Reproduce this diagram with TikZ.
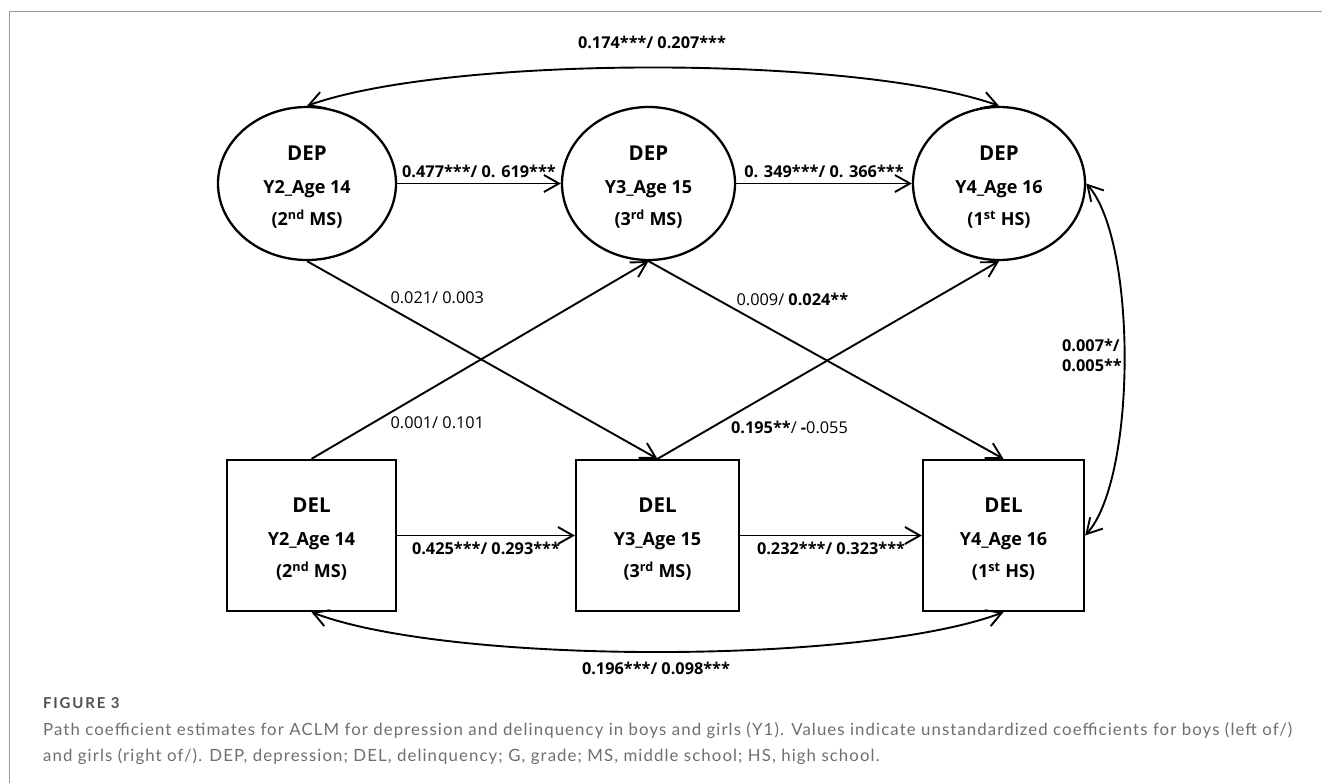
\documentclass[tikz,border=0pt]{standalone}
\usepackage{fontspec}
\setmainfont{Open Sans}
\newfontfamily\capfont{Lato}[LetterSpace=6.5]
\newfontfamily\figfont{Lato}[LetterSpace=12]
\usetikzlibrary{arrows.meta,shapes.geometric}
\definecolor{framegray}{HTML}{9A9A9A}
\definecolor{capgray}{HTML}{6E6E6E}
\definecolor{figgray}{HTML}{505050}
\begin{document}
\begin{tikzpicture}[x=1pt,y=-1pt,
  latent/.style={ellipse, draw, line width=2.3pt, minimum width=#1, minimum height=153pt, inner sep=0pt},
  observed/.style={rectangle, draw, line width=2.3pt, minimum width=#1, minimum height=151pt, inner sep=0pt},
  ntext/.style={align=center, inner sep=0pt, font=\fontsize{18}{32.5}\selectfont\bfseries},
  pathar/.style={line width=1.9pt, -{Straight Barb[length=15pt,width=17pt]}},
  covar/.style={line width=1.9pt, {Straight Barb[length=15pt,width=17pt]}-{Straight Barb[length=15pt,width=17pt]}},
  blab/.style={font=\fontsize{16.3}{20}\selectfont\bfseries, inner sep=2pt},
  rlab/.style={font=\fontsize{16.3}{20}\selectfont, inner sep=2pt},
  framel/.style={draw=framegray, line width=1.5pt},
]
\useasboundingbox (0,0) rectangle (1322,783);
% frame
\coordinate (fa) at (1322,11.5);
\coordinate (fb) at (9.5,11.5);
\coordinate (fc) at (9.5,783);
\draw[framel] (fa) -- (fb) -- (fc);

% latent (DEP)
\node[latent=178pt] (e1) at (307,183.5) {};
\node[latent=173pt] (e2) at (648.5,183.5) {};
\node[latent=172pt] (e3) at (999,183.5) {};
\node[ntext] (e1t) at ([yshift=-4pt]e1.center) {{\fontsize{20.5}{32.5}\selectfont DEP}\\Y2\_Age 14\\(2\textsuperscript{nd} MS)};
\node[ntext] (e2t) at ([yshift=-4pt]e2.center) {{\fontsize{20.5}{32.5}\selectfont DEP}\\Y3\_Age 15\\(3\textsuperscript{rd} MS)};
\node[ntext] (e3t) at ([yshift=-4pt]e3.center) {{\fontsize{20.5}{32.5}\selectfont DEP}\\Y4\_Age 16\\(1\textsuperscript{st} HS)};

% observed (DEL)
\node[observed=169pt] (b1) at (311.5,535.5) {};
\node[observed=163pt] (b2) at (657.5,535.5) {};
\node[observed=161pt] (b3) at (1003.5,535.5) {};
\node[ntext] (b1t) at ([yshift=-4pt]b1.center) {{\fontsize{20.5}{32.5}\selectfont DEL}\\Y2\_Age 14\\(2\textsuperscript{nd} MS)};
\node[ntext] (b2t) at ([yshift=-4pt]b2.center) {{\fontsize{20.5}{32.5}\selectfont DEL}\\Y3\_Age 15\\(3\textsuperscript{rd} MS)};
\node[ntext] (b3t) at ([yshift=-4pt]b3.center) {{\fontsize{20.5}{32.5}\selectfont DEL}\\Y4\_Age 16\\(1\textsuperscript{st} HS)};

% autoregressive paths
\draw[pathar] (e1.east) -- node[blab, above=3pt] (l1) {0.477***/ 0. 619***} (e2.west);
\draw[pathar] (e2.east) -- node[blab, above=3pt] (l2) {0. 349***/ 0. 366***} (e3.west);
\draw[pathar] (b1.east) -- node[blab, below=4pt] (l3) {0.425***/ 0.293***} (b2.west);
\draw[pathar] (b2.east) -- node[blab, below=4pt] (l4) {0.232***/ 0.323***} (b3.west);

% cross-lagged paths
\draw[pathar] (e1.south) -- node[rlab, pos=0.23, anchor=south west] (l5) {0.021/ 0.003} (b2.north);
\draw[pathar] (b1.north) -- node[rlab, pos=0.226, anchor=north west] (l6) {0.001/ 0.101} (e2.south);
\draw[pathar] (e2.south) -- node[rlab, pos=0.24, anchor=south west] (l7) {0.009/ \textbf{0.024**}} (b3.north);
\draw[pathar] (b2.north) -- node[rlab, pos=0.207, anchor=north west] (l8) {\textbf{0.195**}/ \textbf{-}0.055} (e3.south);

% covariances
\draw[covar] (e1.north) .. controls (450,55) and (856,55) .. (e3.north);
\draw[covar] (b1.south) .. controls (450,665) and (864,665) .. (b3.south);
\draw[covar] (e3.east) .. controls (1137,240) and (1137,478) .. (b3.east);
\node[blab] (l9) at (652,42) {0.174***/ 0.207***};
\node[blab] (l10) at (656,668) {0.196***/ 0.098***};
\node[blab, align=left, anchor=east] (l11) at (1124,355) {0.007*/\\0.005**};

% caption
\node[anchor=west, inner sep=0pt, text=figgray, font=\figfont\fontsize{15}{17}\selectfont\bfseries] (fig) at (43,703) {FIGURE 3};
\node[anchor=west, inner sep=0pt, align=left, text=capgray, font=\capfont\fontsize{16.8}{26}\selectfont] (cap) at (43,744) {Path coefficient estimates for ACLM for depression and delinquency in boys and girls (Y1). Values indicate unstandardized coefficients for boys (left of/)\\and girls (right of/). DEP, depression; DEL, delinquency; G, grade; MS, middle school; HS, high school.};
\end{tikzpicture}
\end{document}
